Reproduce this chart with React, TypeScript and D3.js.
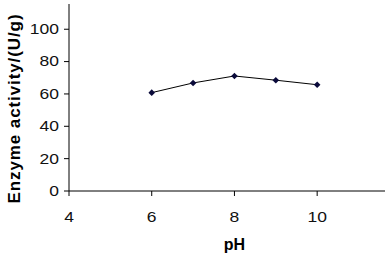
import * as d3 from "d3";

const phValues = [6, 7, 8, 9, 10];
const activity = [60.8, 66.8, 71.1, 68.5, 65.7];
const xTicks = [4, 6, 8, 10];
const yTicks = [0, 20, 40, 60, 80, 100];

const width = 390;
const height = 254;
const margin = { top: 4, right: 5, bottom: 63, left: 69 };

export default function App() {
  const x = d3
    .scaleLinear()
    .domain([4, 11.64])
    .range([margin.left, width - margin.right]);
  const y = d3
    .scaleLinear()
    .domain([0, 115.6])
    .range([height - margin.bottom, margin.top]);

  const line = d3
    .line<number>()
    .x((d, i) => x(phValues[i]))
    .y((d) => y(d));

  const font = "'Liberation Sans', Arial, sans-serif";
  const y0 = y(0);
  // source picture is a bit stretched sideways, so tick text is too
  const stretch = 1.25;
  const diamond = (cx: number, cy: number) =>
    `M${cx},${cy - 3.3}L${cx + 3.3},${cy}L${cx},${cy + 3.3}L${cx - 3.3},${cy}Z`;

  return (
    <svg
      width={width}
      height={height}
      style={{ position: "absolute", left: 0, top: 0, background: "#fff" }}
      fontFamily={font}
    >
      {/* axes */}
      <line x1={x(4)} x2={x(4)} y1={margin.top} y2={y0} stroke="#000" strokeWidth={1} />
      <line x1={x(4)} x2={width - margin.right} y1={y0} y2={y0} stroke="#000" strokeWidth={1} />
      {yTicks.map((t) => (
        <g key={t}>
          <line x1={x(4) - 5} x2={x(4)} y1={y(t)} y2={y(t)} stroke="#000" />
          <text
            transform={`translate(${x(4) - 10},${y(t)}) scale(${stretch},1)`}
            dy="0.35em"
            textAnchor="end"
            fontSize={14}
            fill="#111"
          >
            {t}
          </text>
        </g>
      ))}
      {xTicks.map((t) => (
        <g key={t}>
          <line x1={x(t)} x2={x(t)} y1={y0} y2={y0 + 5} stroke="#000" />
          <text
            transform={`translate(${x(t)},${y0 + 26}) scale(${stretch},1)`}
            dy="0.35em"
            textAnchor="middle"
            fontSize={14}
            fill="#111"
          >
            {t}
          </text>
        </g>
      ))}
      <text x={x(8)} y={250} textAnchor="middle" fontSize={16} fontWeight="bold">
        pH
      </text>
      <text
        transform={`translate(14,108.5) rotate(-90)`}
        dy="0.35em"
        textAnchor="middle"
        fontSize={17}
        fontWeight="bold"
        letterSpacing={0.9}
      >
        Enzyme activity/(U/g)
      </text>

      {/* data */}
      <path d={line(activity) ?? ""} fill="none" stroke="#000" strokeWidth={1} />
      {activity.map((v, i) => (
        <path key={i} d={diamond(x(phValues[i]), y(v))} fill="#0a0a3a" />
      ))}
    </svg>
  );
}
